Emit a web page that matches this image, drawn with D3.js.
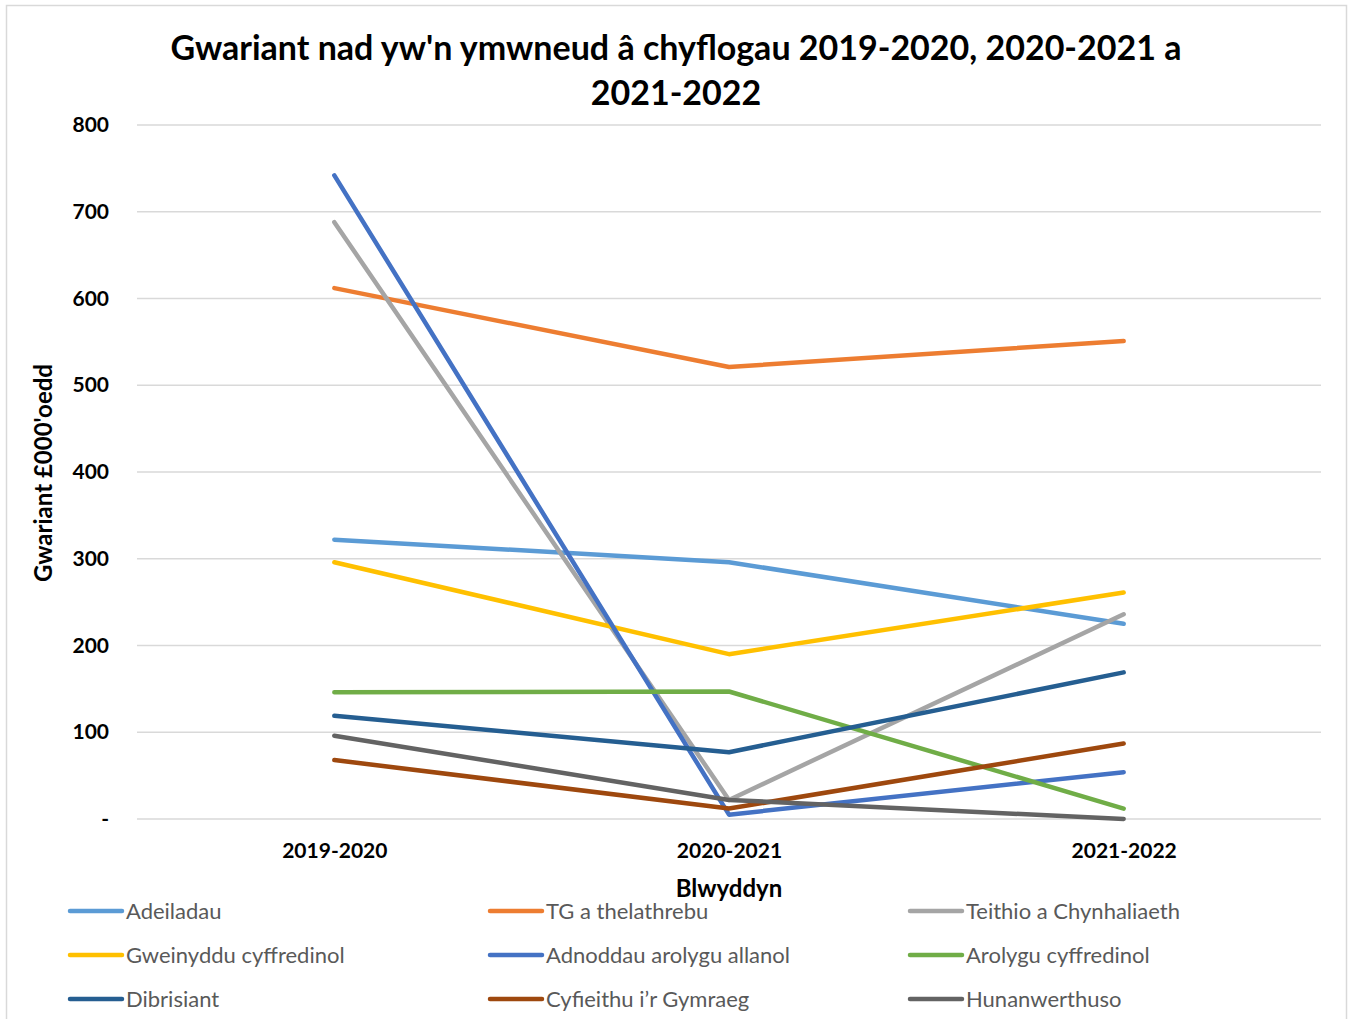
<!DOCTYPE html>
<html>
<head>
<meta charset="utf-8">
<script src="https://cdn.jsdelivr.net/npm/d3@7"></script>
<style>
  html, body { margin: 0; padding: 0; background: #fff; }
  svg { display: block; }
</style>
</head>
<body>
<svg id="chart" width="1353" height="1019"></svg>
<script>
const categories = ["2019-2020", "2020-2021", "2021-2022"];
const seriesNames = [
  "Adeiladau", "TG a thelathrebu", "Teithio a Chynhaliaeth",
  "Gweinyddu cyffredinol", "Adnoddau arolygu allanol", "Arolygu cyffredinol",
  "Dibrisiant", "Cyfieithu i\u2019r Gymraeg", "Hunanwerthuso"
];
const adeiladau = [322, 296, 225];
const tg = [612, 521, 551];
const teithio = [688, 22, 236];
const gweinyddu = [296, 190, 261];
const adnoddau = [742, 5, 54];
const arolygu = [146, 147, 12];
const dibrisiant = [119, 77, 169];
const cyfieithu = [68, 12, 87];
const hunanwerthuso = [96, 22, 0];
const seriesValues = [adeiladau, tg, teithio, gweinyddu, adnoddau, arolygu, dibrisiant, cyfieithu, hunanwerthuso];
const colors = ["#5B9BD5", "#ED7D31", "#A5A5A5", "#FFC000", "#4472C4", "#70AD47", "#255E91", "#9E480E", "#636363"];
const yTicks = [0, 100, 200, 300, 400, 500, 600, 700, 800];
const titleLines = ["Gwariant nad yw'n ymwneud \u00e2 chyflogau 2019-2020, 2020-2021 a", "2021-2022"];
const yLabel = "Gwariant \u00a3000'oedd";
const xLabel = "Blwyddyn";

const font = "Lato, 'Open Sans', sans-serif";
const svg = d3.select("#chart");

// chart border
svg.append("rect").attr("x", 6.5).attr("y", 5.5).attr("width", 1340).attr("height", 1030)
  .attr("fill", "#fff").attr("stroke", "#d9d9d9").attr("stroke-width", 1.5);

const plot = {left: 137, right: 1321, top: 125, bottom: 819};
const x = d3.scalePoint().domain(categories).range([plot.left, plot.right]).padding(0.5);
const y = d3.scaleLinear().domain([0, 800]).range([plot.bottom, plot.top]);

// gridlines
svg.append("g").selectAll("line").data(yTicks).join("line")
  .attr("x1", plot.left).attr("x2", plot.right)
  .attr("y1", d => y(d)).attr("y2", d => y(d))
  .attr("stroke", "#d9d9d9").attr("stroke-width", 1.5);

// y axis
const yAxis = svg.append("g").attr("transform", `translate(${plot.left},0)`)
  .call(d3.axisLeft(y).tickValues(yTicks).tickSize(0).tickPadding(28)
    .tickFormat(d => d === 0 ? "-" : d3.format("d")(d)));
yAxis.select(".domain").remove();
yAxis.selectAll("text").attr("font-family", font).attr("font-weight", "bold")
  .attr("font-size", 21).attr("fill", "#000");

// x axis
const xAxis = svg.append("g").attr("transform", `translate(0,${plot.bottom})`)
  .call(d3.axisBottom(x).tickSize(0).tickPadding(24));
xAxis.select(".domain").remove();
xAxis.selectAll("text").attr("font-family", font).attr("font-weight", "bold")
  .attr("font-size", 21).attr("fill", "#000");

// lines
const line = d3.line().x((d, i) => x(categories[i])).y(d => y(d));
svg.append("g").selectAll("path").data(seriesValues).join("path")
  .attr("d", d => line(d))
  .attr("fill", "none")
  .attr("stroke", (d, i) => colors[i])
  .attr("stroke-width", 4.5)
  .attr("stroke-linecap", "round")
  .attr("stroke-linejoin", "round");

// title
svg.append("text").attr("x", 676).attr("text-anchor", "middle")
  .attr("font-family", font).attr("font-weight", "bold").attr("font-size", 34).attr("fill", "#000")
  .selectAll("tspan").data(titleLines).join("tspan")
  .attr("x", 676).attr("y", (d, i) => 60 + i * 45).text(d => d);

// axis titles
svg.append("text").attr("transform", "translate(52,473) rotate(-90)").attr("text-anchor", "middle")
  .attr("font-family", font).attr("font-weight", "bold").attr("font-size", 24).attr("fill", "#000")
  .text(yLabel);
svg.append("text").attr("x", 729).attr("y", 897).attr("text-anchor", "middle")
  .attr("font-family", font).attr("font-weight", "bold").attr("font-size", 24).attr("fill", "#000")
  .text(xLabel);

// legend
const legend = svg.append("g");
const items = legend.selectAll("g").data(seriesNames).join("g")
  .attr("transform", (d, i) => `translate(${70 + (i % 3) * 420},${911 + Math.floor(i / 3) * 44})`);
items.append("line").attr("x1", 0).attr("x2", 52).attr("y1", 0).attr("y2", 0)
  .attr("stroke", (d, i) => colors[i]).attr("stroke-width", 4.5).attr("stroke-linecap", "round");
items.append("text").attr("x", 56).attr("y", 8)
  .attr("font-family", font).attr("font-size", 22).attr("fill", "#595959")
  .text(d => d);
</script>
</body>
</html>
